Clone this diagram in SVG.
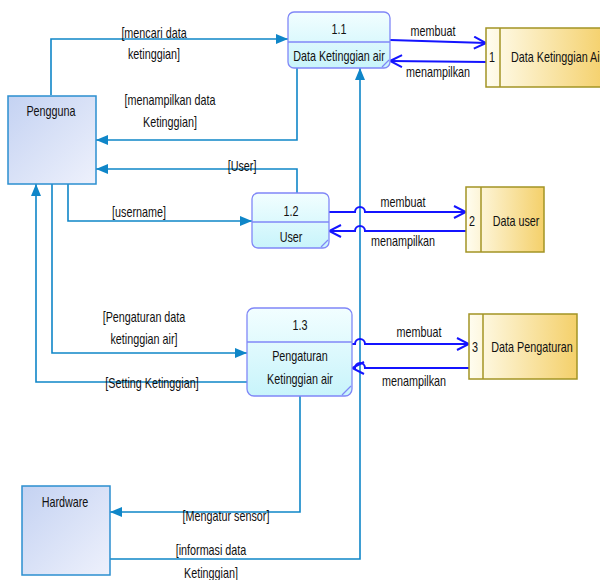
<svg xmlns="http://www.w3.org/2000/svg" width="600" height="580" viewBox="0 0 600 580">
<style>
text{font-family:"Liberation Sans",Arial,sans-serif;font-size:14px;fill:#111;text-anchor:middle}
.ext{stroke:#2b8fd0;stroke-width:1.5}
.proc{stroke:#8087f7;stroke-width:1.3}
.store{stroke:#a39425;stroke-width:1.5}
.flow{fill:none;stroke:#0f86c8;stroke-width:1.6}
.dflow{fill:none;stroke:#1414ff;stroke-width:2}
</style>
<defs>
<linearGradient id="gExt" x1="0" y1="0" x2="1" y2="1"><stop offset="0" stop-color="#c4d2f2"/><stop offset="1" stop-color="#eef1fc"/></linearGradient>
<linearGradient id="gProc" x1="0" y1="0" x2="0" y2="1"><stop offset="0" stop-color="#f2feff"/><stop offset="1" stop-color="#c8f4fb"/></linearGradient>
<linearGradient id="gStore" x1="0" y1="0" x2="1" y2="0"><stop offset="0" stop-color="#fffdf0"/><stop offset="1" stop-color="#f4d06a"/></linearGradient>
<marker id="fa" viewBox="0 0 12 10" refX="12" refY="5" markerWidth="12" markerHeight="10" markerUnits="userSpaceOnUse" orient="auto"><path d="M0,0 L12,5 L0,10 Z" fill="#0f86c8"/></marker>
<marker id="oa" viewBox="0 0 14 14" refX="13" refY="7" markerWidth="14" markerHeight="14" markerUnits="userSpaceOnUse" orient="auto"><path d="M1,1 L13,7 L1,13" fill="none" stroke="#1414ff" stroke-width="2"/></marker>
</defs>
<rect width="600" height="580" fill="#fff"/>

<g id="connectors">
<path class="flow" d="M51,95 V39 H288" marker-end="url(#fa)"/>
<path class="flow" d="M297,68 V140 H96" marker-end="url(#fa)"/>
<path class="flow" d="M297,193 V169 H96" marker-end="url(#fa)"/>
<path class="flow" d="M68,184 V221 H252" marker-end="url(#fa)"/>
<path class="flow" d="M52,184 V353 H247" marker-end="url(#fa)"/>
<path class="flow" d="M247,382 H36 V184" marker-end="url(#fa)"/>
<path class="flow" d="M300,396 V512 H110" marker-end="url(#fa)"/>
<path class="flow" d="M110,559 H360 V68" marker-end="url(#fa)"/>
<path class="dflow" d="M390,40 L486,43" marker-end="url(#oa)"/>
<path class="dflow" d="M486,62 L390,61" marker-end="url(#oa)"/>
<path class="dflow" d="M329,212 H355 A5,5 0 0 1 365,212 H466" marker-end="url(#oa)"/>
<path class="dflow" d="M466,231 H365 A5,5 0 0 0 355,231 H329" marker-end="url(#oa)"/>
<path class="dflow" d="M352,344 H355 A5,5 0 0 1 365,344 H469" marker-end="url(#oa)"/>
<path class="dflow" d="M469,368 H365 A5,5 0 0 0 355,368 H352" marker-end="url(#oa)"/>
<text transform="translate(154 38) scale(.77 1)">[mencari data</text>
<text transform="translate(154 59) scale(.77 1)">ketinggian]</text>
<text transform="translate(170 105) scale(.77 1)">[menampilkan data</text>
<text transform="translate(170 127) scale(.77 1)">Ketinggian]</text>
<text transform="translate(242 171) scale(.77 1)">[User]</text>
<text transform="translate(139 217) scale(.77 1)">[username]</text>
<text transform="translate(144 322) scale(.77 1)">[Pengaturan data</text>
<text transform="translate(144 344) scale(.77 1)">ketinggian air]</text>
<text transform="translate(152 388) scale(.77 1)">[Setting Ketinggian]</text>
<text transform="translate(226 521) scale(.77 1)">[Mengatur sensor]</text>
<text transform="translate(211 555) scale(.77 1)">[informasi data</text>
<text transform="translate(211 578) scale(.77 1)">Ketinggian]</text>
<text transform="translate(433 36) scale(.77 1)">membuat</text>
<text transform="translate(438 77) scale(.77 1)">menampilkan</text>
<text transform="translate(403 207) scale(.77 1)">membuat</text>
<text transform="translate(403 246) scale(.77 1)">menampilkan</text>
<text transform="translate(419 337) scale(.77 1)">membuat</text>
<text transform="translate(414 386) scale(.77 1)">menampilkan</text>
</g>

<g id="pengguna">
<rect class="ext" x="8" y="96" width="88" height="88" fill="url(#gExt)"/>
<text transform="translate(51 116) scale(.77 1)">Pengguna</text>
</g>
<g id="hardware">
<rect class="ext" x="22" y="486" width="88" height="89" fill="url(#gExt)"/>
<text transform="translate(65 507) scale(.77 1)">Hardware</text>
</g>

<g id="p11">
<rect class="proc" x="288" y="12" width="102" height="56" rx="6" fill="url(#gProc)"/>
<line class="proc" x1="288" y1="42" x2="390" y2="42"/>
<line class="proc" x1="382" y1="67" x2="389" y2="60"/>
<text transform="translate(339 34) scale(.77 1)">1.1</text>
<text transform="translate(339 61) scale(.77 1)">Data Ketinggian air</text>
</g>
<g id="p12">
<rect class="proc" x="252" y="193" width="77" height="55" rx="6" fill="url(#gProc)"/>
<line class="proc" x1="252" y1="222" x2="329" y2="222"/>
<line class="proc" x1="321" y1="247" x2="328" y2="240"/>
<text transform="translate(291 216) scale(.77 1)">1.2</text>
<text transform="translate(291 242) scale(.77 1)">User</text>
</g>
<g id="p13">
<rect class="proc" x="247" y="308" width="105" height="88" rx="7" fill="url(#gProc)"/>
<line class="proc" x1="247" y1="342" x2="352" y2="342"/>
<line class="proc" x1="342" y1="395" x2="351" y2="386"/>
<text transform="translate(300 330) scale(.77 1)">1.3</text>
<text transform="translate(300 361) scale(.77 1)">Pengaturan</text>
<text transform="translate(300 384) scale(.77 1)">Ketinggian air</text>
</g>

<g id="store1">
<rect class="store" x="486" y="28" width="120" height="59" fill="url(#gStore)"/>
<line class="store" x1="500" y1="28" x2="500" y2="87"/>
<text transform="translate(492 62) scale(.77 1)">1</text>
<text transform="translate(511 62) scale(.77 1)" style="text-anchor:start">Data Ketinggian Air</text>
</g>
<g id="store2">
<rect class="store" x="466" y="187" width="78" height="65" fill="url(#gStore)"/>
<line class="store" x1="481" y1="187" x2="481" y2="252"/>
<text transform="translate(472 226) scale(.77 1)">2</text>
<text transform="translate(516 226) scale(.77 1)">Data user</text>
</g>
<g id="store3">
<rect class="store" x="469" y="314" width="108" height="65" fill="url(#gStore)"/>
<line class="store" x1="483" y1="314" x2="483" y2="379"/>
<text transform="translate(475 352) scale(.77 1)">3</text>
<text transform="translate(532 352) scale(.77 1)">Data Pengaturan</text>
</g>
</svg>
